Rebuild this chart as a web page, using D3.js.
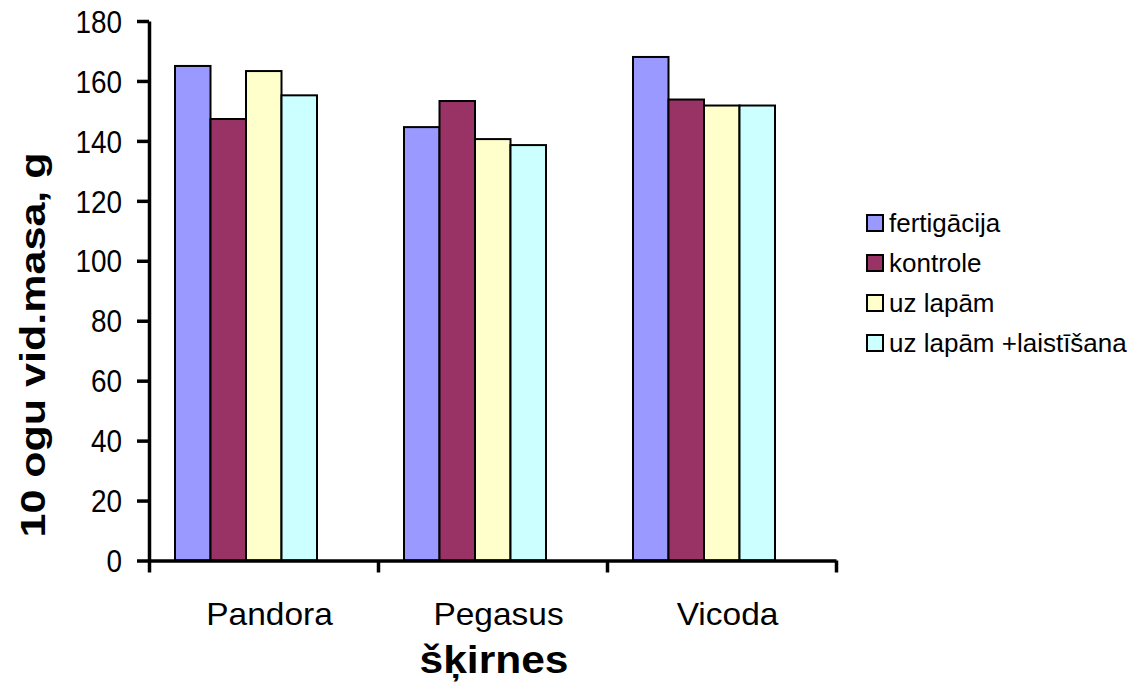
<!DOCTYPE html>
<html>
<head>
<meta charset="utf-8">
<script src="https://cdn.jsdelivr.net/npm/d3@7"></script>
<style>
  body { margin: 0; background: #fff; }
  svg { font-family: "Liberation Sans", Arial, sans-serif; }
</style>
</head>
<body>
<div id="chart"></div>
<script>
const categories = ['Pandora', 'Pegasus', 'Vicoda'];
const series = ['fertigācija', 'kontrole', 'uz lapām', 'uz lapām +laistīšana'];
const fertigacija = [165, 144.6, 168];
const kontrole = [147.3, 153.3, 153.8];
const uzLapam = [163.3, 140.6, 151.8];
const laistisana = [155.2, 138.6, 151.8];
const yTicks = [0, 20, 40, 60, 80, 100, 120, 140, 160, 180];
const colors = ['#9999ff', '#993366', '#ffffcc', '#ccffff'];

const values = [fertigacija, kontrole, uzLapam, laistisana];
const W = 1134, H = 685;
const plotLeft = 149, plotRight = 836, plotTop = 21, plotBottom = 560.5;

const svg = d3.select('#chart').append('svg')
  .attr('width', W)
  .attr('height', H);

const x0 = d3.scaleBand().domain(categories).range([plotLeft, plotRight]);
const x1 = d3.scaleBand().domain(series).range([26, 168]);
const y = d3.scaleLinear().domain([0, 180]).range([plotBottom, plotTop]);

// bars
const groups = svg.selectAll('g.cat').data(categories).join('g')
  .attr('class', 'cat')
  .attr('transform', d => `translate(${x0(d)},0)`);

groups.selectAll('rect')
  .data((c, ci) => series.map((s, si) => ({ s, si, v: values[si][ci] })))
  .join('rect')
  .attr('x', d => x1(d.s))
  .attr('y', d => y(d.v))
  .attr('width', x1.bandwidth())
  .attr('height', d => y(0) - y(d.v))
  .attr('fill', d => colors[d.si])
  .attr('stroke', '#000')
  .attr('stroke-width', 2);

// y axis
const yAxis = svg.append('g')
  .attr('transform', `translate(${plotLeft},0)`)
  .call(d3.axisLeft(y).tickValues(yTicks).tickSize(12).tickSizeOuter(0).tickFormat(''));
yAxis.selectAll('.tick').append('text')
  .attr('transform', 'translate(-27,0) scale(0.9,1)')
  .attr('text-anchor', 'end')
  .attr('dy', '0.36em')
  .attr('font-size', 31)
  .attr('font-family', '"Liberation Sans", Arial, sans-serif')
  .attr('fill', '#000')
  .attr('stroke', 'none')
  .text(d => d);

// x axis: ticks between categories
const xt = d3.scaleLinear().domain([0, 3]).range([plotLeft, plotRight]);
const xAxis = svg.append('g')
  .attr('transform', `translate(0,${plotBottom})`)
  .call(d3.axisBottom(xt).ticks(3).tickSize(12).tickSizeOuter(0).tickFormat(''));

svg.selectAll('.domain, .tick line')
  .attr('stroke', '#000')
  .style('stroke-width', '3.5px');

svg.append('g').selectAll('text').data(categories).join('text')
  .attr('transform', d => `translate(${x0(d) + x0.bandwidth() / 2 + 6},625) scale(1.08,1)`)
  .attr('text-anchor', 'middle')
  .attr('font-size', 31)
  .text(d => d);

// axis titles
svg.append('text')
  .attr('transform', 'translate(494,673) scale(1.12,1)')
  .attr('text-anchor', 'middle')
  .attr('font-size', 38)
  .attr('font-weight', 'bold')
  .text('šķirnes');

svg.append('text')
  .attr('transform', 'translate(45,345) rotate(-90) scale(1.23,1)')
  .attr('text-anchor', 'middle')
  .attr('font-size', 35)
  .attr('font-weight', 'bold')
  .text('10 ogu vid.masa, g');

// legend
const legend = svg.append('g').selectAll('g').data(series).join('g')
  .attr('transform', (d, i) => `translate(867,${223 + i * 40})`);

legend.append('rect')
  .attr('x', 0)
  .attr('y', -8)
  .attr('width', 16)
  .attr('height', 16)
  .attr('fill', (d, i) => colors[i])
  .attr('stroke', '#000')
  .attr('stroke-width', 2);

legend.append('text')
  .attr('x', 22)
  .attr('y', 9)
  .attr('font-size', 26)
  .text(d => d);
</script>
</body>
</html>
